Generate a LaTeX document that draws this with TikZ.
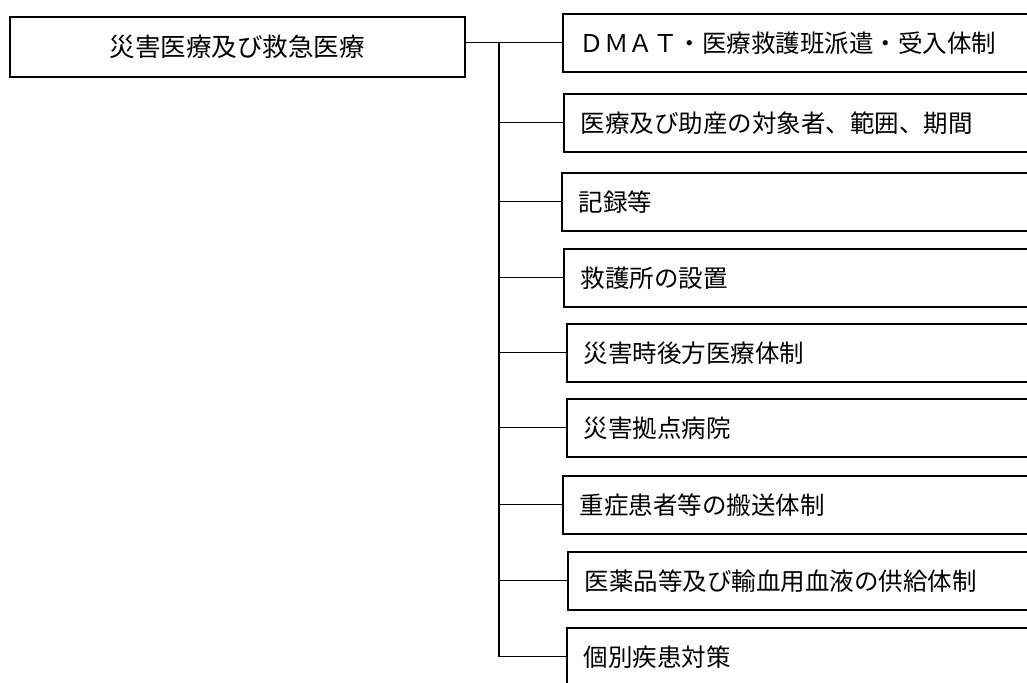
\documentclass[tikz,border=0pt]{standalone}
\usepackage{fontspec}
\newfontfamily\jp{Noto Sans CJK JP}
\begin{document}
\begin{tikzpicture}[x=1pt,y=-1pt,
  mainbox/.style={draw,line width=1.6pt,minimum width=455pt,minimum height=60pt,anchor=north west,inner sep=0pt,font=\jp\fontsize{25.5}{30}\selectfont},
  item/.style={draw,line width=1.6pt,minimum height=58pt,text width=540pt,inner xsep=17pt,inner ysep=0pt,align=left,anchor=north west,font=\jp\fontsize{24.5}{29}\selectfont},
  conn/.style={line width=1.2pt}]
\fill[white] (0,0) rectangle (1027,682);
\useasboundingbox (0,0) rectangle (1027,682);
\clip (0,0) rectangle (1027,682);
\node[mainbox] (main) at (9,16) {災害医療及び救急医療};
\node[item] (b1) at (562,13) {ＤＭＡＴ・医療救護班派遣・受入体制};
\node[item] (b2) at (563,93) {医療及び助産の対象者、範囲、期間};
\node[item] (b3) at (561,172) {記録等};
\node[item] (b4) at (563,248) {救護所の設置};
\node[item] (b5) at (566,323) {災害時後方医療体制};
\node[item] (b6) at (566,398) {災害拠点病院};
\node[item] (b7) at (562,475) {重症患者等の搬送体制};
\node[item] (b8) at (567,551) {医薬品等及び輸血用血液の供給体制};
\node[item] (b9) at (566,627) {個別疾患対策};
\coordinate (t) at (499,42);
\draw[conn] (main.east |- b1.west) -- (b1.west);
\draw[conn] (t) |- (b9.west);
\foreach \b in {b2,b3,b4,b5,b6,b7,b8}
  \draw[conn] (t |- \b.west) -- (\b.west);
\end{tikzpicture}
\end{document}
